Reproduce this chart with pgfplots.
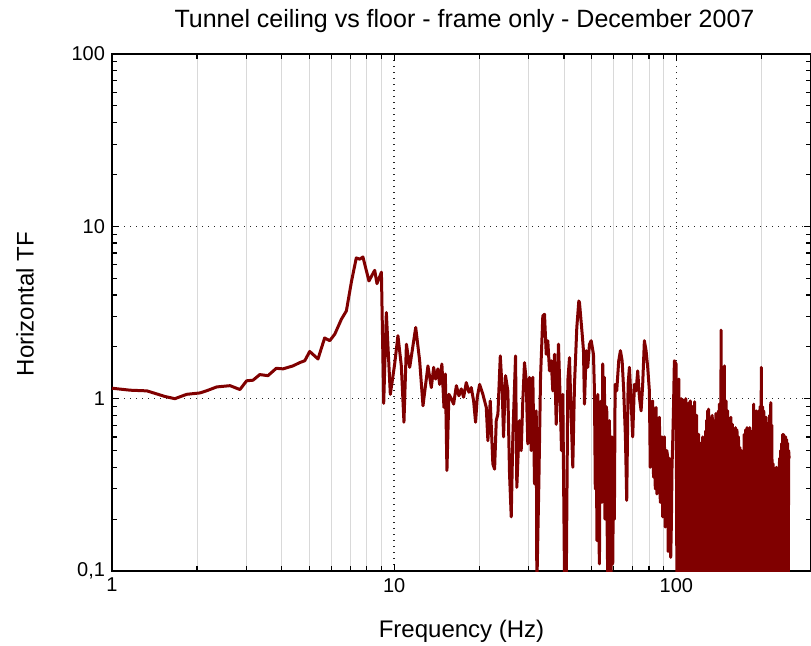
\documentclass[border=0pt]{standalone}
\usepackage{fontspec}
\setmainfont{Liberation Sans}
\usepackage{pgfplots}
\usepackage{pgfplotstable}
\usetikzlibrary{calc}
\pgfplotsset{compat=1.18}
\definecolor{curve}{RGB}{128,0,0}

\pgfplotstableread{
f v
1.00 1.15
1.16 1.12
1.33 1.11
1.54 1.03
1.67 1.00
1.84 1.06
2.05 1.08
2.16 1.11
2.35 1.17
2.62 1.19
2.84 1.13
3.00 1.27
3.16 1.28
3.34 1.38
3.57 1.36
3.82 1.50
4.04 1.49
4.38 1.55
4.63 1.62
4.82 1.66
5.02 1.88
5.37 1.70
5.67 2.25
5.91 2.17
6.16 2.37
6.50 2.89
6.77 3.23
7.06 4.80
7.34 6.56
7.55 6.45
7.75 6.64
8.14 4.82
8.53 5.56
8.69 4.65
9.01 5.42
9.18 0.94
9.38 3.16
9.69 1.06
10.04 1.59
10.31 2.32
10.60 1.55
10.83 0.73
11.05 2.07
11.35 1.52
11.92 2.59
12.31 1.66
12.65 0.91
13.17 1.55
13.54 1.16
13.80 1.52
14.03 1.30
14.29 1.49
14.49 1.21
14.76 1.59
15.01 0.89
15.18 1.39
15.38 0.383
15.63 1.06
15.94 1.00
16.24 0.93
16.61 1.19
16.96 1.04
17.29 1.14
17.62 1.02
18.01 1.24
18.40 1.09
18.76 1.16
19.12 0.97
19.43 0.73
19.70 1.02
20.08 1.21
20.62 1.06
21.20 0.89
21.48 0.571
21.90 0.97
22.37 0.418
22.69 0.39
23.00 0.746
23.31 0.815
23.77 1.77
24.15 1.11
24.41 0.60
24.81 1.36
25.28 1.11
25.63 0.366
25.99 0.206
26.33 0.60
26.92 1.77
27.20 0.306
27.80 0.746
28.19 0.50
28.56 0.97
28.96 1.62
29.37 1.27
29.75 0.547
30.17 1.33
30.60 0.50
31.00 1.33
31.43 0.32
31.87 0.85
32.03 0.08
32.56 0.32
33.01 1.33
33.63 3.02
34.10 3.09
34.58 1.81
35.03 2.17
35.52 1.45
36.02 1.66
36.49 1.11
37.00 1.81
37.52 0.71
38.22 2.07
38.76 0.97
39.17 0.50
39.59 1.06
40.14 0.09
40.71 0.08
41.24 1.27
41.81 1.73
42.40 0.78
42.95 0.40
43.55 1.21
44.38 2.59
45.11 3.69
45.36 3.61
46.37 2.37
46.86 1.90
47.24 0.93
47.90 1.90
48.53 1.52
49.20 2.07
49.90 2.17
50.84 1.81
51.25 1.11
51.60 0.30
51.97 0.90
52.30 0.15
52.65 1.06
53.00 0.20
53.38 0.11
53.70 0.85
54.13 0.97
54.50 0.25
54.84 1.59
55.20 0.40
55.60 1.33
55.85 0.20
56.07 0.32
56.40 0.90
56.66 0.85
56.90 0.15
57.12 0.09
57.50 0.70
57.92 0.746
58.30 0.12
58.74 0.09
59.10 0.60
59.50 0.11
59.98 0.50
60.30 0.20
60.67 1.21
61.47 1.11
62.48 1.66
63.35 1.90
64.24 1.66
65.08 1.11
65.99 0.60
66.69 0.257
67.45 1.21
68.17 1.52
69.13 0.97
70.03 0.60
71.01 1.21
72.00 1.11
72.95 1.45
73.96 1.02
74.99 0.85
75.98 1.21
77.03 2.17
78.11 1.90
79.14 1.52
80.24 1.11
80.80 0.40
81.36 0.478
81.90 0.95
82.43 0.97
83.00 0.35
83.58 0.624
84.20 0.30
84.76 0.89
85.30 0.28
85.87 0.458
86.50 0.75
87.07 0.78
87.70 0.25
88.28 0.418
88.90 0.60
89.45 0.206
90.10 0.55
90.70 0.60
91.30 0.18
91.94 0.293
92.50 0.50
93.16 0.458
93.50 0.13
93.91 0.151
94.50 0.45
95.00 0.383
95.50 0.12
96.01 0.188
96.50 0.40
97.03 0.547
97.70 0.90
98.39 1.66
99.75 1.59
100.5 0.06
101 1.20
101.5 0.07
102 1.30
102.5 0.06
103 0.95
103.5 0.15
104 1.00
104.5 0.06
105 0.90
105.5 0.07
106 0.98
106.5 0.06
107 0.75
107.5 0.16
108 1.00
108.5 0.05
109 0.85
109.5 0.07
110 0.85
110.5 0.06
111 0.95
111.5 0.07
112 0.97
112.5 0.06
113 0.70
113.5 0.12
114 0.90
114.5 0.06
115 0.85
115.5 0.07
116 0.96
116.5 0.06
117 0.60
117.5 0.07
118 0.80
118.5 0.13
119 0.55
119.5 0.06
120 0.62
120.5 0.07
121 0.50
121.5 0.05
122 0.55
122.5 0.07
123 0.45
123.5 0.12
124 0.60
124.5 0.06
125 0.55
125.5 0.07
126 0.50
126.5 0.06
127 0.65
127.5 0.07
128 0.75
128.5 0.15
129 0.85
129.5 0.06
130 0.87
130.5 0.07
131 0.60
131.5 0.06
132 0.70
132.5 0.07
133 0.78
133.5 0.14
134 0.80
134.5 0.06
135 0.60
135.5 0.07
136 0.65
136.5 0.06
137 0.75
137.5 0.07
138 0.82
138.5 0.13
139 0.70
139.5 0.06
140 0.75
140.5 0.07
141 0.85
141.5 0.06
142 0.93
142.5 0.07
143 0.80
143.5 0.06
144 2.50
144.5 0.07
145 1.00
145.5 0.06
146 1.20
146.5 0.08
147 0.90
147.5 0.06
148 1.55
148.5 0.07
149 0.80
149.5 0.06
150 0.97
151 0.07
152 0.85
153 0.06
154 0.70
155 0.18
156 0.78
157 0.06
158 0.71
159 0.07
160 0.65
161 0.06
162 0.68
163 0.08
164 0.66
165 0.06
166 0.60
167 0.16
168 0.52
169 0.06
170 0.50
171 0.07
172 0.45
173 0.06
174 0.62
175 0.07
176 0.66
177 0.06
178 0.68
179 0.12
180 0.60
181 0.06
182 0.68
183 0.07
184 0.55
185 0.06
186 0.65
187 0.08
188 0.93
189 0.06
190 0.62
191 0.07
192 0.85
193 0.06
194 0.75
195 0.15
196 0.85
197 0.06
198 0.90
199 0.07
200 1.52
201 0.06
202 0.90
203 0.08
204 0.85
205 0.06
206 0.75
207 0.07
208 0.78
209 0.06
210 0.72
211 0.16
212 0.68
213 0.06
214 0.80
215 0.07
216 0.95
217 0.06
218 0.70
219 0.08
220 0.42
221 0.06
222 0.38
223 0.07
224 0.37
225 0.06
226 0.40
227 0.07
228 0.37
229 0.06
230 0.36
231 0.07
232 0.45
233 0.06
234 0.50
235 0.07
236 0.55
237 0.06
238 0.62
239 0.07
240 0.62
241 0.06
242 0.60
243 0.07
244 0.60
245 0.06
246 0.58
247 0.07
248 0.55
249 0.06
250 0.50
251 0.45
}\tfdata

\begin{document}
\begin{tikzpicture}
\begin{axis}[
  scale only axis,
  width=349.5pt, height=258.5pt,
  xmode=log, ymode=log,
  xmin=1, xmax=300, ymin=0.1, ymax=100,
  xtick={1,10,100}, xticklabels={1,10,100},
  ytick={0.1,1,10,100}, yticklabels={{0,1},1,10,100},
  minor xtick={2,3,4,5,6,7,8,9,20,30,40,50,60,70,80,90,200},
  minor ytick={0.2,0.3,0.4,0.5,0.6,0.7,0.8,0.9,2,3,4,5,6,7,8,9,20,30,40,50,60,70,80,90},
  xmajorgrids=true, xminorgrids=true, ymajorgrids=true, yminorgrids=false,
  major grid style={black!85, line width=0.75pt, dash pattern=on 0.7pt off 2.3pt},
  minor x grid style={black!15, line width=0.4pt},
  tick align=inside,
  major tick length=3.5pt, minor tick length=2.5pt,
  every tick/.style={black, line width=0.6pt},
  axis line style={line width=0.9pt},
  ticklabel style={font=\fontsize{10}{12}\selectfont},
  xlabel={Frequency (Hz)},
  xlabel style={at={(axis description cs:0.5,-0.129)}, anchor=base, font=\fontsize{12}{14}\selectfont},
  ylabel={Horizontal TF},
  ylabel style={at={(axis description cs:-0.1245,0.516)}, anchor=center, font=\fontsize{12}{14}\selectfont},
]
\addplot[curve, line width=1.5pt, line join=round, no markers] table[x=f, y=v] {\tfdata};
\end{axis}
\node[anchor=base, font=\fontsize{12.5}{15}\selectfont] at ($(current axis.north west)!0.5!(current axis.north east)+(1.5pt,13pt)$) {Tunnel ceiling vs floor - frame only - December 2007};
\path (current axis.south west) ++(-56pt,-37pt) coordinate (bl);
\path (current axis.north east) ++(0pt,27pt) coordinate (tr);
\pgfresetboundingbox
\path[use as bounding box] (bl) rectangle (tr);
\end{tikzpicture}
\end{document}
